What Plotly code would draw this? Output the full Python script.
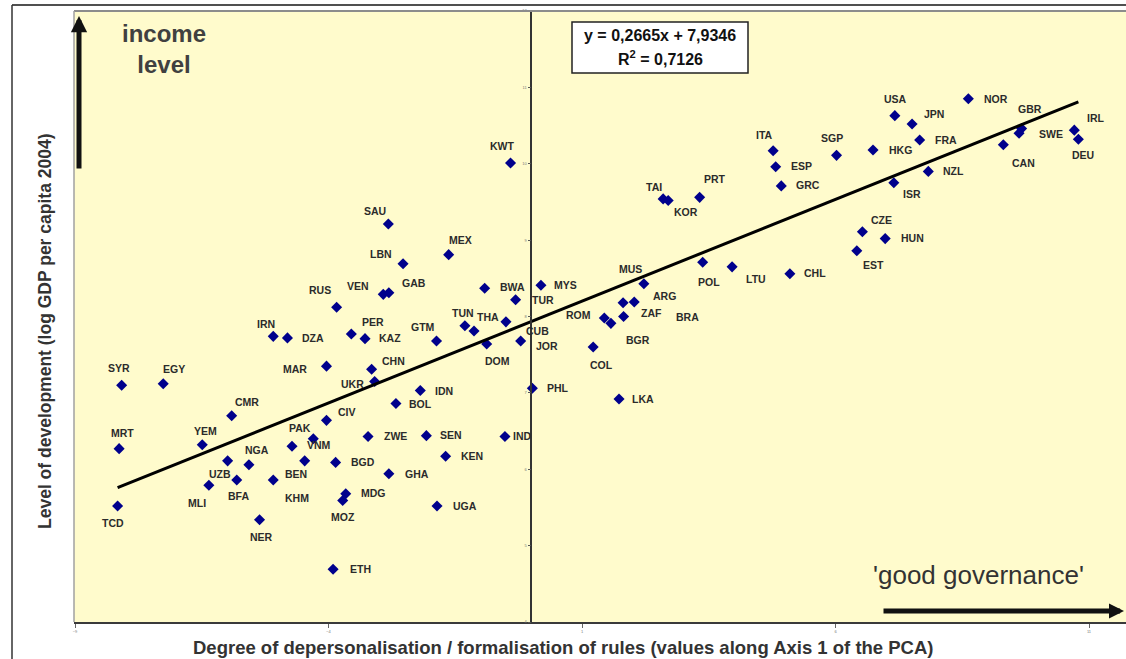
import plotly.graph_objects as go

# Countries: PCA axis-1 score vs log GDP per capita (2004)
codes = [
    "SYR", "EGY", "MRT", "TCD", "YEM", "CMR", "NGA", "UZB", "BFA", "MLI",
    "BEN", "NER", "PAK", "VNM", "KHM", "CIV", "BGD", "MDG", "MOZ", "ETH",
    "ZWE", "GHA", "BOL", "IDN", "SEN", "KEN", "UGA", "IND", "UKR", "MAR",
    "CHN", "IRN", "DZA", "PER", "KAZ", "GTM", "TUN", "THA", "CUB", "DOM",
    "JOR", "TUR", "BWA", "MYS", "RUS", "VEN", "GAB", "LBN", "SAU", "MEX",
    "KWT", "PHL", "COL", "LKA", "ROM", "BGR", "ZAF", "BRA", "ARG", "MUS",
    "TAI", "KOR", "PRT", "POL", "LTU", "CHL", "ITA", "ESP", "GRC", "SGP",
    "HKG", "ISR", "CZE", "HUN", "EST", "USA", "JPN", "FRA", "NZL", "NOR",
    "CAN", "GBR", "SWE", "IRL", "DEU",
]
pca_axis1 = [
    -8.08, -7.26, -8.13, -8.16, -6.49, -5.91, -5.57, -5.99, -5.81, -6.36,
    -5.09, -5.36, -4.72, -4.30, -4.47, -4.04, -3.86, -3.66, -3.72, -3.91,
    -3.22, -2.81, -2.67, -2.19, -2.07, -1.69, -1.86, -0.52, -3.09, -4.04,
    -3.15, -5.09, -4.81, -3.55, -3.28, -1.87, -1.31, -1.13, -0.50, -0.88,
    -0.21, -0.31, -0.92, 0.19, -3.84, -2.92, -2.81, -2.53, -2.82, -1.63,
    -0.41, 0.02, 1.22, 1.73, 1.44, 1.57, 1.82, 1.81, 2.03, 2.22,
    2.60, 2.70, 3.32, 3.38, 3.96, 5.10, 4.77, 4.82, 4.93, 6.02,
    6.74, 7.15, 6.53, 6.98, 6.42, 7.17, 7.51, 7.66, 7.83, 8.62,
    9.31, 9.67, 9.62, 10.71, 10.79,
]
log_gdp_2004 = [
    7.10, 7.12, 6.27, 5.52, 6.32, 6.70, 6.06, 6.11, 5.86, 5.79,
    5.86, 5.34, 6.30, 6.40, 6.11, 6.64, 6.09, 5.68, 5.59, 4.69,
    6.43, 5.94, 6.86, 7.03, 6.44, 6.17, 5.52, 6.43, 7.15, 7.35,
    7.31, 7.74, 7.72, 7.77, 7.71, 7.68, 7.88, 7.81, 7.93, 7.64,
    7.68, 8.22, 8.37, 8.41, 8.12, 8.29, 8.31, 8.69, 9.21, 8.81,
    10.01, 7.06, 7.60, 6.92, 7.98, 7.91, 8.00, 8.18, 8.19, 8.43,
    9.54, 9.52, 9.56, 8.71, 8.65, 8.56, 10.17, 9.96, 9.71, 10.11,
    10.18, 9.75, 9.11, 9.02, 8.86, 10.63, 10.52, 10.31, 9.90, 10.85,
    10.25, 10.46, 10.40, 10.44, 10.32,
]

# Linear trend as reported in the equation box
slope = 0.2665
intercept = 7.9346
r_squared = 0.7126

x_ticks = [-9, -4, 1, 6, 11]
y_ticks = [4, 5, 6, 7, 8, 9, 10, 11, 12]

# Label placement: pixel offset (right, down) of each code from its marker
label_offsets = {
    "SYR": (-3, -17), "EGY": (11, -15), "MRT": (3, -16), "TCD": (-5, 17),
    "YEM": (3, -14), "CMR": (15, -14), "NGA": (8, -15), "UZB": (-8, 13),
    "BFA": (2, 16), "MLI": (-12, 18), "BEN": (23, -6), "NER": (2, 17),
    "PAK": (8, -18), "VNM": (6, 6), "KHM": (-8, 37), "CIV": (21, -8),
    "BGD": (27, 0), "MDG": (28, -1), "MOZ": (0, 16), "ETH": (27, 0),
    "ZWE": (27, 0), "GHA": (28, 0), "BOL": (25, 0), "IDN": (24, 0),
    "SEN": (25, -1), "KEN": (26, 0), "UGA": (28, 0), "IND": (18, 0),
    "UKR": (-22, 3), "MAR": (-31, 3), "CHN": (22, -8), "IRN": (-7, -12),
    "DZA": (26, 0), "PER": (22, -12), "KAZ": (25, -1), "GTM": (-14, -14),
    "TUN": (-2, -13), "THA": (14, -14), "CUB": (32, 9), "DOM": (11, 17),
    "JOR": (26, 5), "TUR": (27, 0), "BWA": (28, -1), "MYS": (25, 0),
    "RUS": (-17, -17), "VEN": (-25, -8), "GAB": (25, -10), "LBN": (-22, -10),
    "SAU": (-13, -13), "MEX": (12, -15), "KWT": (-9, -17), "PHL": (26, 0),
    "COL": (8, 18), "LKA": (24, 0), "ROM": (-26, -3), "BGR": (27, 17),
    "ZAF": (28, -4), "BRA": (64, 14), "ARG": (30, -6), "MUS": (-13, -15),
    "TAI": (-9, -12), "KOR": (18, 12), "PRT": (15, -18), "POL": (6, 20),
    "LTU": (24, 12), "CHL": (25, -1), "ITA": (-9, -16), "ESP": (26, -1),
    "GRC": (27, -1), "SGP": (-5, -17), "HKG": (27, 0), "ISR": (18, 11),
    "CZE": (19, -12), "HUN": (27, -1), "EST": (17, 14), "USA": (1, -17),
    "JPN": (22, -10), "FRA": (26, 0), "NZL": (25, 0), "NOR": (28, 0),
    "CAN": (20, 18), "GBR": (8, -20), "SWE": (32, 1), "IRL": (22, -12),
    "DEU": (5, 16),
}

FONT = "Liberation Sans, Arial, sans-serif"
W, H = 1126, 659
ML, MR, MT, MB = 74, 0, 11, 37
PW, PH = W - ML - MR, H - MT - MB


def px_x(p):
    """Horizontal pixel -> paper fraction."""
    return (p - ML) / PW


def px_y(p):
    """Vertical pixel (from top) -> paper fraction."""
    return (H - MB - p) / PH


def paper_text(xp, yp, text, size, bold=True, color="#333", **kw):
    return dict(x=px_x(xp), y=px_y(yp), xref="paper", yref="paper", text=text,
                showarrow=False, xanchor="center", yanchor="middle",
                font=dict(family=FONT, size=size, color=color,
                          weight="bold" if bold else "normal"), **kw)


fig = go.Figure()

fig.add_trace(go.Scatter(
    x=pca_axis1, y=log_gdp_2004, mode="markers",
    marker=dict(symbol="diamond", size=8.5, color="#00008C", line=dict(width=0)),
    hovertext=codes, showlegend=False,
))

x0, x1 = min(pca_axis1), max(pca_axis1)
fig.add_trace(go.Scatter(
    x=[x0, x1], y=[slope * x0 + intercept, slope * x1 + intercept],
    mode="lines", line=dict(color="#000000", width=3), showlegend=False,
    hoverinfo="skip",
))

annotations = []
for code, xv, yv in zip(codes, pca_axis1, log_gdp_2004):
    dx, dy = label_offsets[code]
    annotations.append(dict(
        x=xv, y=yv, xref="x", yref="y", text=code, showarrow=False,
        xanchor="center", yanchor="middle", xshift=dx, yshift=-dy,
        font=dict(family=FONT, size=10.5, color="#2b2b2b", weight="bold"),
    ))

eq_text = f"y = {slope:.4f}x + {intercept:.4f}".replace(".", ",")
r2_text = f"R<sup>2</sup> = {r_squared:.4f}".replace(".", ",")
annotations += [
    paper_text(660, 35, eq_text, 16, color="#111"),
    paper_text(660, 58, r2_text, 16, color="#111"),
    paper_text(164, 49, "income<br>level", 24, color="#404040", align="center"),
    paper_text(978, 575, "'good governance'", 26, bold=False, color="#333"),
    paper_text(563, 647,
               "Degree of depersonalisation / formalisation of rules (values along Axis 1 of the PCA)",
               18.5),
    paper_text(45, 331, "Level of development (log GDP per capita 2004)", 17.5,
               textangle=-90),
    # upward "income" arrow
    dict(x=px_x(79), y=px_y(16), xref="paper", yref="paper", text="",
         showarrow=True, ax=0, ay=154, arrowhead=2, arrowsize=0.65,
         arrowwidth=5, arrowcolor="#111"),
    # rightward "governance" arrow
    dict(x=px_x(1124), y=px_y(611), xref="paper", yref="paper", text="",
         showarrow=True, ax=-242, ay=0, arrowhead=2, arrowsize=0.6,
         arrowwidth=5, arrowcolor="#111"),
]

shapes = [
    # equation box
    dict(type="rect", xref="paper", yref="paper",
         x0=px_x(572), x1=px_x(748), y0=px_y(73), y1=px_y(22),
         line=dict(color="#222", width=1.5), fillcolor="white", layer="below"),
    # plot frame (top and left edges)
    dict(type="line", xref="paper", yref="paper", x0=0, x1=1, y0=1, y1=1,
         line=dict(color="#8c8c8c", width=2)),
    dict(type="line", xref="paper", yref="paper", x0=0, x1=0, y0=0, y1=1,
         line=dict(color="#a0a0a0", width=1.5)),
    # outer chart border
    dict(type="line", xref="paper", yref="paper",
         x0=px_x(12), x1=1, y0=px_y(5), y1=px_y(5),
         line=dict(color="#505050", width=2)),
    dict(type="line", xref="paper", yref="paper",
         x0=px_x(12), x1=px_x(12), y0=px_y(659), y1=px_y(5),
         line=dict(color="#333", width=1.5)),
]

x_left = -9.02
x_right = x_left + PW / 50.7

fig.update_layout(
    width=W, height=H,
    margin=dict(l=ML, r=MR, t=MT, b=MB),
    paper_bgcolor="white", plot_bgcolor="#FFFBCC",
    showlegend=False,
    annotations=annotations, shapes=shapes,
    xaxis=dict(
        range=[x_left, x_right], showgrid=False, zeroline=False,
        showline=True, linecolor="#3a3a3a", linewidth=2,
        ticks="outside", ticklen=4, tickcolor="#666",
        tickvals=x_ticks, tickfont=dict(family=FONT, size=4, color="#777"),
    ),
    yaxis=dict(
        range=[4, 12], showgrid=False, zeroline=False,
        anchor="free", position=(0 - x_left) / (x_right - x_left),
        showline=True, linecolor="#333", linewidth=1.5,
        ticks="outside", ticklen=3, tickcolor="#555",
        tickvals=y_ticks, tickfont=dict(family=FONT, size=4, color="#777"),
    ),
)

fig.write_html("out.html")
